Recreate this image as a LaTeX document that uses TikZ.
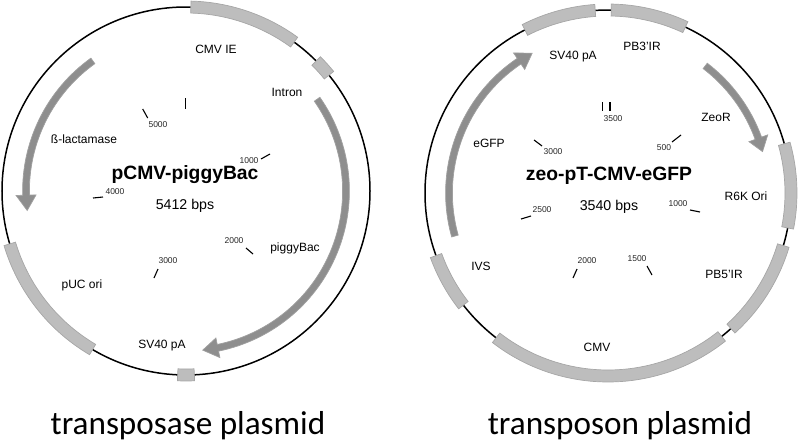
\documentclass[tikz,border=0pt]{standalone}
\usepackage{fontspec}
\setmainfont{Liberation Sans}
\newfontfamily\captionfont{Carlito}
\definecolor{bandgray}{HTML}{BDBDBD}
\definecolor{bandedge}{HTML}{A6A6A6}
\definecolor{arrowgray}{HTML}{8E8E8E}
\definecolor{arrowedge}{HTML}{A0A0A0}
\tikzset{
    band/.style={fill=bandgray, draw=bandedge, line width=.7pt},
    orf/.style={fill=arrowgray, draw=arrowedge, line width=.7pt},
    backbone/.style={line width=1.5pt},
    tickmark/.style={line width=1.1pt},
    feature/.style={font=\fontsize{12}{14}\selectfont},
    ticklabel/.style={font=\fontsize{8.5}{10}\selectfont, text=black!85, inner sep=0pt},
    plasmidname/.style={font=\fontsize{19.3}{22}\selectfont\bfseries, inner sep=0pt},
    plasmidsize/.style={font=\fontsize{14.2}{16}\selectfont},
    plasmidcaption/.style={font=\captionfont\fontsize{33.2}{36}\selectfont, anchor=base}
}
% band: from, to, inner radius, outer radius
\newcommand{\band}[4]{
    \draw[band] (#1:#3) arc (#1:#2:#3) -- (#2:#4) arc (#2:#1:#4) -- cycle;
}
% orf arrow: from, head base, tip, radius
\newcommand{\orf}[4]{
    \pgfmathsetmacro{\rin}{#4-3.4}
    \pgfmathsetmacro{\rout}{#4+3.4}
    \pgfmathsetmacro{\hin}{#4-10}
    \pgfmathsetmacro{\hout}{#4+10}
    \draw[orf] (#1:\rin) arc (#1:#2:\rin) -- (#2:\hin) -- (#3:#4) -- (#2:\hout)
        -- (#2:\rout) arc (#2:#1:\rout) -- cycle;
}
\begin{document}
\begin{tikzpicture}[x=1pt, y=1pt]
    \useasboundingbox (0,0) rectangle (800,-442);

    % transposase plasmid
    \begin{scope}[shift={(186,-191)}]
        \draw[backbone] (0,0) circle (184);
        \band{88.5}{54}{178}{190}
        \band{39}{45}{178}{190}
        \band{267.4}{272.6}{178}{190}
        \band{196.7}{239.5}{178}{190}
        \orf{35}{-78.5}{-84}{160}
        \orf{125.6}{181.5}{187}{160}
    \end{scope}
    \draw[tickmark] (185.3,-98) -- (185.3,-109);
    \draw[tickmark] (142.7,-109) -- (147.7,-118);
    \draw[tickmark] (261,-159) -- (270,-154);
    \draw[tickmark] (93,-198) -- (103,-197);
    \draw[tickmark] (246,-248) -- (253,-254);
    \draw[tickmark] (154,-278) -- (158,-269);
    \node[ticklabel] (tickfivek) at (158,-125) {5000};
    \node[ticklabel] (tickonek) at (249,-161) {1000};
    \node[ticklabel] (tickfourk) at (115,-192) {4000};
    \node[ticklabel] (ticktwok) at (234,-241) {2000};
    \node[ticklabel] (tickthreek) at (168,-261) {3000};
    \node[feature] (cmvie) at (216,-49) {CMV IE};
    \node[feature] (intron) at (287,-92) {Intron};
    \node[feature] (lactamase) at (84,-139) {ß-lactamase};
    \node[feature] (piggybac) at (295,-248) {piggyBac};
    \node[feature] (puc) at (82,-285) {pUC ori};
    \node[feature] (svleft) at (162,-346) {SV40 pA};
    \node[plasmidname] (pcmv) at (185,-175) {pCMV-piggyBac};
    \node[plasmidsize] (pcmvsize) at (185,-206) {5412 bps};
    \node[plasmidcaption] (transposase) at (188,-434) {transposase plasmid};

    % transposon plasmid
    \begin{scope}[shift={(608,-193)}]
        \draw[backbone] (0,0) circle (183);
        \band{94}{117}{177}{189}
        \band{89}{65}{177}{189}
        \band{15.6}{-11}{177}{189}
        \band{-16.7}{-47.8}{177}{189}
        \band{-51.6}{-127.7}{177}{189}
        \band{200}{217.8}{177}{189}
        \orf{195.7}{124}{118.5}{159}
        \orf{52.6}{20}{15}{160}
    \end{scope}
    \draw[tickmark] (602.7,-102) -- (602.7,-111);
    \draw[tickmark] (610,-102) -- (610,-111);
    \draw[tickmark] (534,-140) -- (542,-146);
    \draw[tickmark] (681,-135) -- (672,-142);
    \draw[tickmark] (690,-210) -- (700,-212);
    \draw[tickmark] (521,-219) -- (531,-216);
    \draw[tickmark] (573,-278) -- (577,-269);
    \draw[tickmark] (652,-275) -- (647,-266);
    \node[ticklabel] (tickthreefive) at (613,-119) {3500};
    \node[ticklabel] (tickthreekr) at (553,-152) {3000};
    \node[ticklabel] (tickfive) at (664,-148) {500};
    \node[ticklabel] (tickoner) at (678,-204) {1000};
    \node[ticklabel] (ticktwofive) at (542,-210) {2500};
    \node[ticklabel] (ticktwor) at (587,-261) {2000};
    \node[ticklabel] (tickonefive) at (637,-259) {1500};
    \node[feature] (svright) at (573,-57) {SV40 pA};
    \node[feature] (pbthree) at (642,-46) {PB3'IR};
    \node[feature] (zeor) at (716,-117) {ZeoR};
    \node[feature] (egfp) at (489,-143) {eGFP};
    \node[feature] (rsixk) at (746,-196) {R6K Ori};
    \node[feature] (ivs) at (481,-266) {IVS};
    \node[feature] (pbfive) at (724,-274) {PB5'IR};
    \node[feature] (cmv) at (597,-347) {CMV};
    \node[plasmidname] (zeo) at (609,-176) {zeo-pT-CMV-eGFP};
    \node[plasmidsize] (zeosize) at (609,-207) {3540 bps};
    \node[plasmidcaption] (transposon) at (620,-434) {transposon plasmid};
\end{tikzpicture}
\end{document}
